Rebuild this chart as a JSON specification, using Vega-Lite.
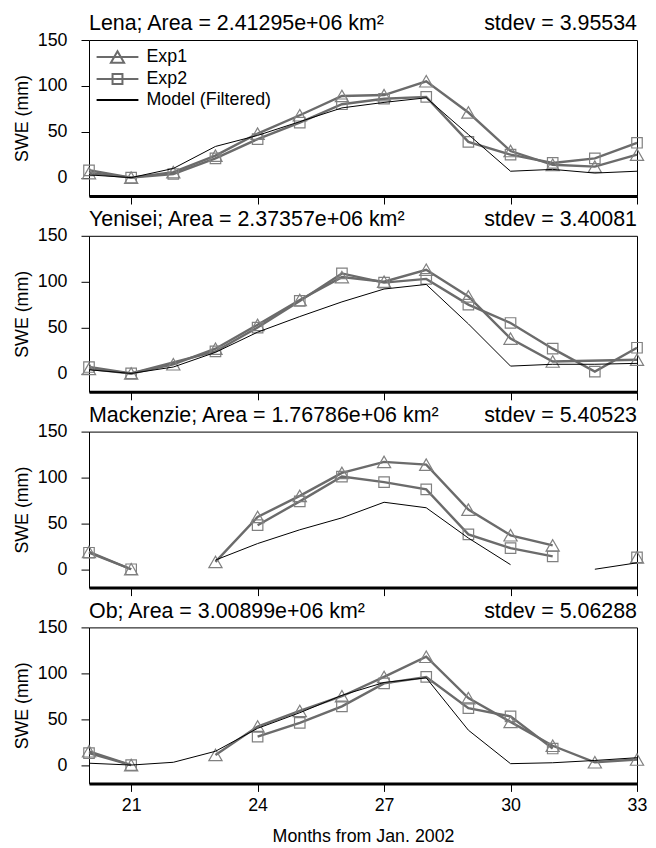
{
  "$schema": "https://vega.github.io/schema/vega-lite/v6.json",
  "background": "white",
  "padding": {"left": 12, "top": 12, "right": 0, "bottom": 0},
  "datasets": {
    "swe": [
      {"river":"Lena","series":"Exp1","month":20,"swe":5},{"river":"Lena","series":"Exp1","month":21,"swe":0},{"river":"Lena","series":"Exp1","month":22,"swe":6},{"river":"Lena","series":"Exp1","month":23,"swe":24},{"river":"Lena","series":"Exp1","month":24,"swe":48},{"river":"Lena","series":"Exp1","month":25,"swe":68},{"river":"Lena","series":"Exp1","month":26,"swe":89},{"river":"Lena","series":"Exp1","month":27,"swe":90},{"river":"Lena","series":"Exp1","month":28,"swe":105},{"river":"Lena","series":"Exp1","month":29,"swe":71},{"river":"Lena","series":"Exp1","month":30,"swe":29},{"river":"Lena","series":"Exp1","month":31,"swe":14},{"river":"Lena","series":"Exp1","month":32,"swe":12},{"river":"Lena","series":"Exp1","month":33,"swe":25},
      {"river":"Lena","series":"Exp2","month":20,"swe":8},{"river":"Lena","series":"Exp2","month":21,"swe":0},{"river":"Lena","series":"Exp2","month":22,"swe":4},{"river":"Lena","series":"Exp2","month":23,"swe":21},{"river":"Lena","series":"Exp2","month":24,"swe":42},{"river":"Lena","series":"Exp2","month":25,"swe":60},{"river":"Lena","series":"Exp2","month":26,"swe":80},{"river":"Lena","series":"Exp2","month":27,"swe":86},{"river":"Lena","series":"Exp2","month":28,"swe":88},{"river":"Lena","series":"Exp2","month":29,"swe":39},{"river":"Lena","series":"Exp2","month":30,"swe":25},{"river":"Lena","series":"Exp2","month":31,"swe":16},{"river":"Lena","series":"Exp2","month":32,"swe":21},{"river":"Lena","series":"Exp2","month":33,"swe":38},
      {"river":"Lena","series":"Model (Filtered)","month":20,"swe":3},{"river":"Lena","series":"Model (Filtered)","month":21,"swe":0},{"river":"Lena","series":"Model (Filtered)","month":22,"swe":10},{"river":"Lena","series":"Model (Filtered)","month":23,"swe":34},{"river":"Lena","series":"Model (Filtered)","month":24,"swe":46},{"river":"Lena","series":"Model (Filtered)","month":25,"swe":61},{"river":"Lena","series":"Model (Filtered)","month":26,"swe":76},{"river":"Lena","series":"Model (Filtered)","month":27,"swe":82},{"river":"Lena","series":"Model (Filtered)","month":28,"swe":87},{"river":"Lena","series":"Model (Filtered)","month":29,"swe":47},{"river":"Lena","series":"Model (Filtered)","month":30,"swe":7},{"river":"Lena","series":"Model (Filtered)","month":31,"swe":9},{"river":"Lena","series":"Model (Filtered)","month":32,"swe":5},{"river":"Lena","series":"Model (Filtered)","month":33,"swe":7},

      {"river":"Yenisei","series":"Exp1","month":20,"swe":5},{"river":"Yenisei","series":"Exp1","month":21,"swe":0},{"river":"Yenisei","series":"Exp1","month":22,"swe":10},{"river":"Yenisei","series":"Exp1","month":23,"swe":27},{"river":"Yenisei","series":"Exp1","month":24,"swe":53},{"river":"Yenisei","series":"Exp1","month":25,"swe":80},{"river":"Yenisei","series":"Exp1","month":26,"swe":105},{"river":"Yenisei","series":"Exp1","month":27,"swe":100},{"river":"Yenisei","series":"Exp1","month":28,"swe":113},{"river":"Yenisei","series":"Exp1","month":29,"swe":84},{"river":"Yenisei","series":"Exp1","month":30,"swe":38},{"river":"Yenisei","series":"Exp1","month":31,"swe":13},{"river":"Yenisei","series":"Exp1","month":33,"swe":15},
      {"river":"Yenisei","series":"Exp2","month":20,"swe":7},{"river":"Yenisei","series":"Exp2","month":21,"swe":0},{"river":"Yenisei","series":"Exp2","month":23,"swe":24},{"river":"Yenisei","series":"Exp2","month":24,"swe":50},{"river":"Yenisei","series":"Exp2","month":25,"swe":79},{"river":"Yenisei","series":"Exp2","month":26,"swe":109},{"river":"Yenisei","series":"Exp2","month":27,"swe":99},{"river":"Yenisei","series":"Exp2","month":28,"swe":103},{"river":"Yenisei","series":"Exp2","month":29,"swe":75},{"river":"Yenisei","series":"Exp2","month":30,"swe":55},{"river":"Yenisei","series":"Exp2","month":31,"swe":27},{"river":"Yenisei","series":"Exp2","month":32,"swe":2},{"river":"Yenisei","series":"Exp2","month":33,"swe":28},
      {"river":"Yenisei","series":"Model (Filtered)","month":20,"swe":4},{"river":"Yenisei","series":"Model (Filtered)","month":21,"swe":0},{"river":"Yenisei","series":"Model (Filtered)","month":22,"swe":7},{"river":"Yenisei","series":"Model (Filtered)","month":23,"swe":23},{"river":"Yenisei","series":"Model (Filtered)","month":24,"swe":45},{"river":"Yenisei","series":"Model (Filtered)","month":25,"swe":62},{"river":"Yenisei","series":"Model (Filtered)","month":26,"swe":78},{"river":"Yenisei","series":"Model (Filtered)","month":27,"swe":92},{"river":"Yenisei","series":"Model (Filtered)","month":28,"swe":97},{"river":"Yenisei","series":"Model (Filtered)","month":29,"swe":54},{"river":"Yenisei","series":"Model (Filtered)","month":30,"swe":8},{"river":"Yenisei","series":"Model (Filtered)","month":31,"swe":10},{"river":"Yenisei","series":"Model (Filtered)","month":32,"swe":10},{"river":"Yenisei","series":"Model (Filtered)","month":33,"swe":11},

      {"river":"Mackenzie","series":"Exp1","month":20,"swe":19},{"river":"Mackenzie","series":"Exp1","month":21,"swe":0},{"river":"Mackenzie","series":"Exp1","month":22,"swe":null},{"river":"Mackenzie","series":"Exp1","month":23,"swe":8},{"river":"Mackenzie","series":"Exp1","month":24,"swe":57},{"river":"Mackenzie","series":"Exp1","month":25,"swe":80},{"river":"Mackenzie","series":"Exp1","month":26,"swe":105},{"river":"Mackenzie","series":"Exp1","month":27,"swe":117},{"river":"Mackenzie","series":"Exp1","month":28,"swe":114},{"river":"Mackenzie","series":"Exp1","month":29,"swe":65},{"river":"Mackenzie","series":"Exp1","month":30,"swe":37},{"river":"Mackenzie","series":"Exp1","month":31,"swe":26},{"river":"Mackenzie","series":"Exp1","month":32,"swe":null},{"river":"Mackenzie","series":"Exp1","month":33,"swe":13},
      {"river":"Mackenzie","series":"Exp2","month":20,"swe":18},{"river":"Mackenzie","series":"Exp2","month":21,"swe":0},{"river":"Mackenzie","series":"Exp2","month":22,"swe":null},{"river":"Mackenzie","series":"Exp2","month":23,"swe":null},{"river":"Mackenzie","series":"Exp2","month":24,"swe":48},{"river":"Mackenzie","series":"Exp2","month":25,"swe":74},{"river":"Mackenzie","series":"Exp2","month":26,"swe":101},{"river":"Mackenzie","series":"Exp2","month":27,"swe":95},{"river":"Mackenzie","series":"Exp2","month":28,"swe":87},{"river":"Mackenzie","series":"Exp2","month":29,"swe":38},{"river":"Mackenzie","series":"Exp2","month":30,"swe":23},{"river":"Mackenzie","series":"Exp2","month":31,"swe":14},{"river":"Mackenzie","series":"Exp2","month":32,"swe":null},{"river":"Mackenzie","series":"Exp2","month":33,"swe":13},
      {"river":"Mackenzie","series":"Model (Filtered)","month":23,"swe":10},{"river":"Mackenzie","series":"Model (Filtered)","month":24,"swe":28},{"river":"Mackenzie","series":"Model (Filtered)","month":25,"swe":43},{"river":"Mackenzie","series":"Model (Filtered)","month":26,"swe":56},{"river":"Mackenzie","series":"Model (Filtered)","month":27,"swe":73},{"river":"Mackenzie","series":"Model (Filtered)","month":28,"swe":67},{"river":"Mackenzie","series":"Model (Filtered)","month":29,"swe":34},{"river":"Mackenzie","series":"Model (Filtered)","month":30,"swe":5},{"river":"Mackenzie","series":"Model (Filtered)","month":31,"swe":null},{"river":"Mackenzie","series":"Model (Filtered)","month":32,"swe":0},{"river":"Mackenzie","series":"Model (Filtered)","month":33,"swe":7},

      {"river":"Ob","series":"Exp1","month":20,"swe":15},{"river":"Ob","series":"Exp1","month":21,"swe":0},{"river":"Ob","series":"Exp1","month":22,"swe":null},{"river":"Ob","series":"Exp1","month":23,"swe":11},{"river":"Ob","series":"Exp1","month":24,"swe":42},{"river":"Ob","series":"Exp1","month":25,"swe":59},{"river":"Ob","series":"Exp1","month":26,"swe":75},{"river":"Ob","series":"Exp1","month":27,"swe":96},{"river":"Ob","series":"Exp1","month":28,"swe":118},{"river":"Ob","series":"Exp1","month":29,"swe":73},{"river":"Ob","series":"Exp1","month":30,"swe":47},{"river":"Ob","series":"Exp1","month":31,"swe":21},{"river":"Ob","series":"Exp1","month":32,"swe":3},{"river":"Ob","series":"Exp1","month":33,"swe":6},
      {"river":"Ob","series":"Exp2","month":20,"swe":13},{"river":"Ob","series":"Exp2","month":21,"swe":0},{"river":"Ob","series":"Exp2","month":22,"swe":null},{"river":"Ob","series":"Exp2","month":23,"swe":null},{"river":"Ob","series":"Exp2","month":24,"swe":31},{"river":"Ob","series":"Exp2","month":25,"swe":46},{"river":"Ob","series":"Exp2","month":26,"swe":64},{"river":"Ob","series":"Exp2","month":27,"swe":89},{"river":"Ob","series":"Exp2","month":28,"swe":96},{"river":"Ob","series":"Exp2","month":29,"swe":62},{"river":"Ob","series":"Exp2","month":30,"swe":53},{"river":"Ob","series":"Exp2","month":31,"swe":18},
      {"river":"Ob","series":"Model (Filtered)","month":20,"swe":2},{"river":"Ob","series":"Model (Filtered)","month":21,"swe":0},{"river":"Ob","series":"Model (Filtered)","month":22,"swe":3},{"river":"Ob","series":"Model (Filtered)","month":23,"swe":15},{"river":"Ob","series":"Model (Filtered)","month":24,"swe":40},{"river":"Ob","series":"Model (Filtered)","month":25,"swe":57},{"river":"Ob","series":"Model (Filtered)","month":26,"swe":76},{"river":"Ob","series":"Model (Filtered)","month":27,"swe":90},{"river":"Ob","series":"Model (Filtered)","month":28,"swe":95},{"river":"Ob","series":"Model (Filtered)","month":29,"swe":38},{"river":"Ob","series":"Model (Filtered)","month":30,"swe":1.5},{"river":"Ob","series":"Model (Filtered)","month":31,"swe":2.5},{"river":"Ob","series":"Model (Filtered)","month":32,"swe":5},{"river":"Ob","series":"Model (Filtered)","month":33,"swe":8}
    ]
  },
  "data": {"name": "swe"},
  "spacing": 39.8,
  "bounds": "flush",
  "vconcat": [
    {
      "width": 548, "height": 156,
      "encoding": {
        "x": {"field": "month", "type": "quantitative", "scale": {"domain": [20, 33], "nice": false, "zero": false}, "axis": {"values": [21, 24, 27, 30, 33], "labels": false, "title": null}},
        "y": {"field": "swe", "type": "quantitative", "scale": {"domain": [-20, 150], "nice": false, "zero": false}, "axis": {"values": [0, 50, 100, 150], "title": "SWE (mm)"}}
      },
      "layer": [
        {"transform": [{"filter": "datum.river === 'Lena' && datum.series !== 'Model (Filtered)'"}], "mark": {"type": "line", "color": "#6b6b6b", "strokeWidth": 2.4, "invalid": "break-paths-filter-domains"}, "encoding": {"detail": {"field": "series"}}},
        {"transform": [{"filter": "datum.river === 'Lena' && datum.series === 'Exp1'"}], "mark": {"type": "point", "shape": "triangle-up", "filled": false, "color": "#808080", "size": 175, "strokeWidth": 1.2, "opacity": 1}},
        {"transform": [{"filter": "datum.river === 'Lena' && datum.series === 'Exp2'"}], "mark": {"type": "point", "shape": "square", "filled": false, "color": "#808080", "size": 110, "strokeWidth": 1.2, "opacity": 1}},
        {"transform": [{"filter": "datum.river === 'Lena' && datum.series === 'Model (Filtered)'"}], "mark": {"type": "line", "color": "black", "strokeWidth": 1, "invalid": "break-paths-filter-domains"}},
        {"transform": [{"filter": "datum.river === 'Lena' && datum.series === 'Exp1' && datum.month === 20"}], "mark": {"type": "text", "text": "Lena; Area = 2.41295e+06 km²", "align": "left", "baseline": "alphabetic", "dy": -9.7, "fontSize": 21.4, "color": "black"}, "encoding": {"x": {"datum": 20, "type": "quantitative"}, "y": {"datum": 150, "type": "quantitative"}}},
        {"transform": [{"filter": "datum.river === 'Lena' && datum.series === 'Exp1' && datum.month === 20"}], "mark": {"type": "text", "text": "stdev = 3.95534", "align": "right", "baseline": "alphabetic", "dy": -9.7, "fontSize": 21.4, "color": "black"}, "encoding": {"x": {"datum": 33, "type": "quantitative"}, "y": {"datum": 150, "type": "quantitative"}}},
        {"transform": [{"filter": "datum.series === 'none'"}], "mark": {"type": "point", "filled": false, "opacity": 1},
         "encoding": {
           "shape": {"field": "series", "type": "nominal", "scale": {"domain": ["Exp1", "Exp2", "Model (Filtered)"], "range": ["M-1.9,0H1.9M0,-0.52L0.6,0.52L-0.6,0.52Z", "M-1.9,0H1.9M-0.45,-0.45H0.45V0.45H-0.45Z", "M-1.9,0H1.9"]},
             "legend": {"orient": "top-left", "title": null, "offset": 5, "padding": 0, "symbolSize": 484, "symbolOffset": 11.5, "labelOffset": 17, "rowPadding": 0, "labelLimit": 400, "symbolStrokeWidth": 2, "encode": {"symbols": {"update": {"fill": {"value": "transparent"}, "strokeWidth": {"signal": "datum.value === 'Model (Filtered)' ? 1 : 2"}}}}}},
           "color": {"field": "series", "type": "nominal", "scale": {"domain": ["Exp1", "Exp2", "Model (Filtered)"], "range": ["#6b6b6b", "#6b6b6b", "black"]},
             "legend": {"orient": "top-left", "title": null, "offset": 5, "padding": 0, "symbolSize": 484, "symbolOffset": 11.5, "labelOffset": 17, "rowPadding": 0, "labelLimit": 400, "symbolStrokeWidth": 2, "encode": {"symbols": {"update": {"fill": {"value": "transparent"}, "strokeWidth": {"signal": "datum.value === 'Model (Filtered)' ? 1 : 2"}}}}}}
         }}
      ]
    },
    {
      "width": 548, "height": 156,
      "encoding": {
        "x": {"field": "month", "type": "quantitative", "scale": {"domain": [20, 33], "nice": false, "zero": false}, "axis": {"values": [21, 24, 27, 30, 33], "labels": false, "title": null}},
        "y": {"field": "swe", "type": "quantitative", "scale": {"domain": [-20, 150], "nice": false, "zero": false}, "axis": {"values": [0, 50, 100, 150], "title": "SWE (mm)"}}
      },
      "layer": [
        {"transform": [{"filter": "datum.river === 'Yenisei' && datum.series !== 'Model (Filtered)'"}], "mark": {"type": "line", "color": "#6b6b6b", "strokeWidth": 2.4, "invalid": "break-paths-filter-domains"}, "encoding": {"detail": {"field": "series"}}},
        {"transform": [{"filter": "datum.river === 'Yenisei' && datum.series === 'Exp1'"}], "mark": {"type": "point", "shape": "triangle-up", "filled": false, "color": "#808080", "size": 175, "strokeWidth": 1.2, "opacity": 1}},
        {"transform": [{"filter": "datum.river === 'Yenisei' && datum.series === 'Exp2'"}], "mark": {"type": "point", "shape": "square", "filled": false, "color": "#808080", "size": 110, "strokeWidth": 1.2, "opacity": 1}},
        {"transform": [{"filter": "datum.river === 'Yenisei' && datum.series === 'Model (Filtered)'"}], "mark": {"type": "line", "color": "black", "strokeWidth": 1, "invalid": "break-paths-filter-domains"}},
        {"transform": [{"filter": "datum.river === 'Yenisei' && datum.series === 'Exp1' && datum.month === 20"}], "mark": {"type": "text", "text": "Yenisei; Area = 2.37357e+06 km²", "align": "left", "baseline": "alphabetic", "dy": -9.7, "fontSize": 21.4, "color": "black"}, "encoding": {"x": {"datum": 20, "type": "quantitative"}, "y": {"datum": 150, "type": "quantitative"}}},
        {"transform": [{"filter": "datum.river === 'Yenisei' && datum.series === 'Exp1' && datum.month === 20"}], "mark": {"type": "text", "text": "stdev = 3.40081", "align": "right", "baseline": "alphabetic", "dy": -9.7, "fontSize": 21.4, "color": "black"}, "encoding": {"x": {"datum": 33, "type": "quantitative"}, "y": {"datum": 150, "type": "quantitative"}}}
      ]
    },
    {
      "width": 548, "height": 156,
      "encoding": {
        "x": {"field": "month", "type": "quantitative", "scale": {"domain": [20, 33], "nice": false, "zero": false}, "axis": {"values": [21, 24, 27, 30, 33], "labels": false, "title": null}},
        "y": {"field": "swe", "type": "quantitative", "scale": {"domain": [-20, 150], "nice": false, "zero": false}, "axis": {"values": [0, 50, 100, 150], "title": "SWE (mm)"}}
      },
      "layer": [
        {"transform": [{"filter": "datum.river === 'Mackenzie' && datum.series !== 'Model (Filtered)'"}], "mark": {"type": "line", "color": "#6b6b6b", "strokeWidth": 2.4, "invalid": "break-paths-filter-domains"}, "encoding": {"detail": {"field": "series"}}},
        {"transform": [{"filter": "datum.river === 'Mackenzie' && datum.series === 'Exp1'"}], "mark": {"type": "point", "shape": "triangle-up", "filled": false, "color": "#808080", "size": 175, "strokeWidth": 1.2, "opacity": 1}},
        {"transform": [{"filter": "datum.river === 'Mackenzie' && datum.series === 'Exp2'"}], "mark": {"type": "point", "shape": "square", "filled": false, "color": "#808080", "size": 110, "strokeWidth": 1.2, "opacity": 1}},
        {"transform": [{"filter": "datum.river === 'Mackenzie' && datum.series === 'Model (Filtered)'"}], "mark": {"type": "line", "color": "black", "strokeWidth": 1, "invalid": "break-paths-filter-domains"}},
        {"transform": [{"filter": "datum.river === 'Mackenzie' && datum.series === 'Exp1' && datum.month === 20"}], "mark": {"type": "text", "text": "Mackenzie; Area = 1.76786e+06 km²", "align": "left", "baseline": "alphabetic", "dy": -9.7, "fontSize": 21.4, "color": "black"}, "encoding": {"x": {"datum": 20, "type": "quantitative"}, "y": {"datum": 150, "type": "quantitative"}}},
        {"transform": [{"filter": "datum.river === 'Mackenzie' && datum.series === 'Exp1' && datum.month === 20"}], "mark": {"type": "text", "text": "stdev = 5.40523", "align": "right", "baseline": "alphabetic", "dy": -9.7, "fontSize": 21.4, "color": "black"}, "encoding": {"x": {"datum": 33, "type": "quantitative"}, "y": {"datum": 150, "type": "quantitative"}}}
      ]
    },
    {
      "width": 548, "height": 156,
      "encoding": {
        "x": {"field": "month", "type": "quantitative", "scale": {"domain": [20, 33], "nice": false, "zero": false}, "axis": {"values": [21, 24, 27, 30, 33], "title": "Months from Jan. 2002"}},
        "y": {"field": "swe", "type": "quantitative", "scale": {"domain": [-20, 150], "nice": false, "zero": false}, "axis": {"values": [0, 50, 100, 150], "title": "SWE (mm)"}}
      },
      "layer": [
        {"transform": [{"filter": "datum.river === 'Ob' && datum.series !== 'Model (Filtered)'"}], "mark": {"type": "line", "color": "#6b6b6b", "strokeWidth": 2.4, "invalid": "break-paths-filter-domains"}, "encoding": {"detail": {"field": "series"}}},
        {"transform": [{"filter": "datum.river === 'Ob' && datum.series === 'Exp1'"}], "mark": {"type": "point", "shape": "triangle-up", "filled": false, "color": "#808080", "size": 175, "strokeWidth": 1.2, "opacity": 1}},
        {"transform": [{"filter": "datum.river === 'Ob' && datum.series === 'Exp2'"}], "mark": {"type": "point", "shape": "square", "filled": false, "color": "#808080", "size": 110, "strokeWidth": 1.2, "opacity": 1}},
        {"transform": [{"filter": "datum.river === 'Ob' && datum.series === 'Model (Filtered)'"}], "mark": {"type": "line", "color": "black", "strokeWidth": 1, "invalid": "break-paths-filter-domains"}},
        {"transform": [{"filter": "datum.river === 'Ob' && datum.series === 'Exp1' && datum.month === 20"}], "mark": {"type": "text", "text": "Ob; Area = 3.00899e+06 km²", "align": "left", "baseline": "alphabetic", "dy": -9.7, "fontSize": 21.4, "color": "black"}, "encoding": {"x": {"datum": 20, "type": "quantitative"}, "y": {"datum": 150, "type": "quantitative"}}},
        {"transform": [{"filter": "datum.river === 'Ob' && datum.series === 'Exp1' && datum.month === 20"}], "mark": {"type": "text", "text": "stdev = 5.06288", "align": "right", "baseline": "alphabetic", "dy": -9.7, "fontSize": 21.4, "color": "black"}, "encoding": {"x": {"datum": 33, "type": "quantitative"}, "y": {"datum": 150, "type": "quantitative"}}}
      ]
    }
  ],
  "config": {
    "font": "Liberation Sans",
    "view": {"stroke": "black", "strokeWidth": 1},
    "legend": {"labelFont": "Liberation Sans", "labelFontSize": 17.8, "labelColor": "black"},
    "axis": {"grid": false, "labelFont": "Liberation Sans", "labelFontSize": 17.8, "labelColor": "black", "titleFont": "Liberation Sans", "titleFontSize": 17.8, "titleFontWeight": "normal", "titleColor": "black", "tickColor": "black", "tickSize": 8, "tickWidth": 1, "domainColor": "black"},
    "axisX": {"domainWidth": 3, "labelPadding": 5, "titlePadding": 13, "labelFlush": false},
    "axisY": {"domain": false, "labelPadding": 14, "titlePadding": 6}
  }
}
